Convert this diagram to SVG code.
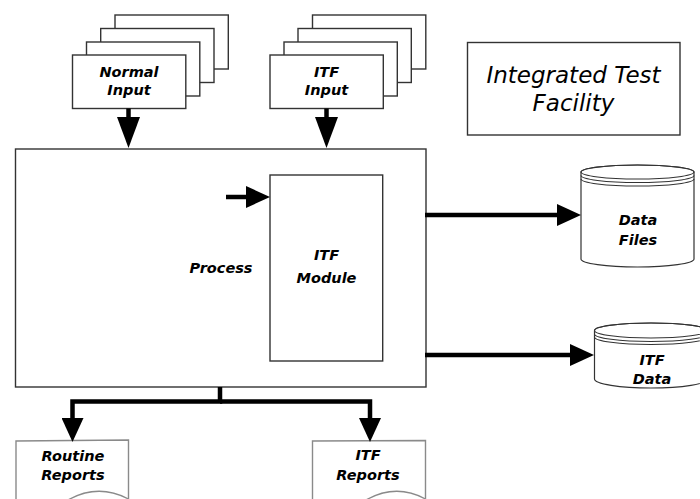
<svg xmlns="http://www.w3.org/2000/svg" width="700" height="499" viewBox="0 0 700 499">
  <style>
    .box { fill: #ffffff; stroke: #333333; stroke-width: 1.4; }
    .doc { fill: #ffffff; stroke: #8a8a8a; stroke-width: 1.4; }
    .disk { fill: #ffffff; stroke: #333333; stroke-width: 1.2; }
    .ring { fill: none; stroke: #333333; stroke-width: 1.1; }
    .lbl { font-family: "DejaVu Sans", "Liberation Sans", sans-serif; font-size: 14.5px; font-weight: bold; font-style: italic; fill: #000000; text-anchor: middle; }
    .title { font-family: "DejaVu Sans", "Liberation Sans", sans-serif; font-size: 23px; font-style: italic; fill: #000000; text-anchor: middle; }
    .wire { fill: none; stroke: #000000; stroke-width: 4.5; stroke-linejoin: miter; }
  </style>
  <defs>
    <marker id="head" markerUnits="userSpaceOnUse" markerWidth="24" markerHeight="22" viewBox="0 0 24 22" refX="0" refY="11" orient="auto">
      <path d="M0,0 L24,11 L0,22 Z" fill="#000000"/>
    </marker>
    <marker id="headLong" markerUnits="userSpaceOnUse" markerWidth="31" markerHeight="23" viewBox="0 0 31 23" refX="0" refY="11.5" orient="auto">
      <path d="M0,0 L31,11.5 L0,23 Z" fill="#000000"/>
    </marker>
  </defs>

  <rect width="700" height="499" fill="#ffffff"/>

  <!-- stacked input forms -->
  <g id="normal-input">
    <rect class="box" x="115" y="15" width="113.3" height="54"/>
    <rect class="box" x="100.7" y="28.5" width="113.3" height="54"/>
    <rect class="box" x="86.5" y="42" width="113.3" height="54"/>
    <rect class="box" x="72.5" y="55" width="113.3" height="53.5"/>
    <text class="lbl" x="129" y="77">Normal</text>
    <text class="lbl" x="129" y="95">Input</text>
  </g>

  <g id="itf-input">
    <rect class="box" x="312.5" y="15" width="113.3" height="54"/>
    <rect class="box" x="298" y="28.5" width="113.3" height="54"/>
    <rect class="box" x="284" y="42" width="113.3" height="54"/>
    <rect class="box" x="270" y="55" width="113.3" height="53.5"/>
    <text class="lbl" x="326.5" y="77">ITF</text>
    <text class="lbl" x="326.5" y="95">Input</text>
  </g>

  <g id="title">
    <rect class="box" x="467.5" y="42.5" width="212.5" height="92.5"/>
    <text class="title" x="573.5" y="83">Integrated Test</text>
    <text class="title" x="573.5" y="111">Facility</text>
  </g>

  <!-- main processing block -->
  <g id="process">
    <rect class="box" x="15.5" y="149" width="410.5" height="238"/>
    <text class="lbl" x="221" y="273">Process</text>
  </g>

  <g id="itf-module">
    <rect class="box" x="270" y="175" width="112.7" height="186"/>
    <text class="lbl" x="326.5" y="260">ITF</text>
    <text class="lbl" x="326.5" y="282.5">Module</text>
  </g>

  <!-- disk stores -->
  <g id="data-files">
    <path class="disk" d="M581,172 V259 A56.5,8 0 0 0 694,259 V172 A56.5,7 0 0 0 581,172 Z"/>
    <ellipse class="ring" cx="637.5" cy="172" rx="56.5" ry="7"/>
    <path class="ring" d="M581,175.5 A56.5,7 0 0 0 694,175.5"/>
    <path class="ring" d="M581,179 A56.5,7 0 0 0 694,179"/>
    <text class="lbl" x="638" y="225">Data</text>
    <text class="lbl" x="638" y="245">Files</text>
  </g>

  <g id="itf-data">
    <path class="disk" d="M594.5,330.5 V379 A56.5,9 0 0 0 707.5,379 V330.5 A56.5,7.5 0 0 0 594.5,330.5 Z"/>
    <ellipse class="ring" cx="651" cy="330.5" rx="56.5" ry="7.5"/>
    <path class="ring" d="M594.5,334 A56.5,7.5 0 0 0 707.5,334"/>
    <path class="ring" d="M594.5,337 A56.5,7.5 0 0 0 707.5,337"/>
    <text class="lbl" x="652" y="365">ITF</text>
    <text class="lbl" x="652" y="384">Data</text>
  </g>

  <!-- printed reports -->
  <g id="routine-reports">
    <path class="doc" d="M16,510 V441 L128.5,440 V510"/>
    <path class="doc" d="M68,500 Q98,483 128.5,499"/>
    <text class="lbl" x="73" y="461">Routine</text>
    <text class="lbl" x="73" y="480">Reports</text>
  </g>

  <g id="itf-reports">
    <path class="doc" d="M312.5,510 V441 L425.5,440.5 V510"/>
    <path class="doc" d="M366,500 Q396,483 425.5,499"/>
    <text class="lbl" x="368" y="460">ITF</text>
    <text class="lbl" x="368" y="480">Reports</text>
  </g>

  <!-- flow lines -->
  <g id="connectors">
    <line class="wire" x1="128.5" y1="108.5" x2="128.5" y2="117" marker-end="url(#headLong)"/>
    <line class="wire" x1="326.5" y1="108.5" x2="326.5" y2="117" marker-end="url(#headLong)"/>
    <line class="wire" x1="226" y1="197" x2="246" y2="197" stroke-width="4" marker-end="url(#head)"/>
    <line class="wire" x1="425" y1="215" x2="557" y2="215" stroke-width="4" marker-end="url(#head)"/>
    <line class="wire" x1="425" y1="355" x2="570" y2="355" stroke-width="3" marker-end="url(#head)"/>
    <polyline class="wire" points="220,387 220,401.5 72.5,401.5 72.5,418" marker-end="url(#head)"/>
    <polyline class="wire" points="220,401.5 370,401.5 370,418" marker-end="url(#head)"/>
  </g>
</svg>
